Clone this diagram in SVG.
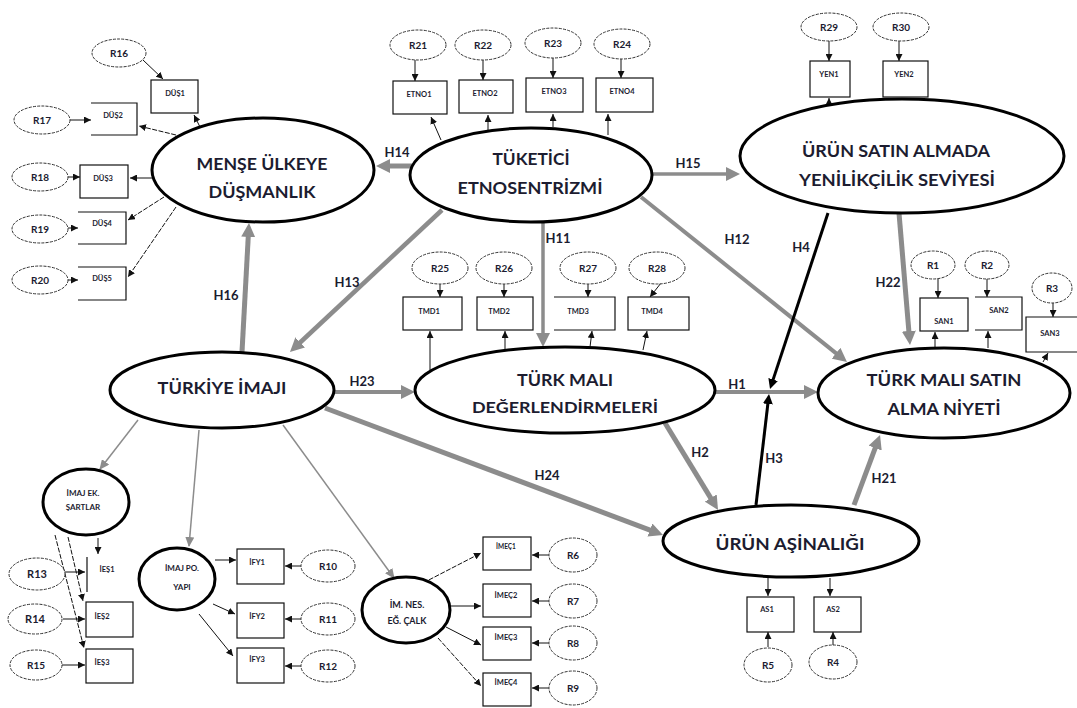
<svg xmlns="http://www.w3.org/2000/svg" width="1077" height="708" viewBox="0 0 1077 708">
<style>
text{font-family:Lato,"Open Sans","Liberation Sans",sans-serif;font-weight:bold;fill:#1c1c30;text-anchor:middle}
.big{font-size:17px}
.mid{font-size:9px}
.ind{font-size:7.5px}
.rl{font-size:10px}
.hl{font-size:13px}
.lat{fill:#fff;stroke:#000;stroke-width:3}
.err{fill:#fff;stroke:#333;stroke-width:1;stroke-dasharray:3 1.2}
.box{fill:#fff;stroke:#111;stroke-width:1.2}
.obox{fill:none;stroke:#111;stroke-width:1.2}
.thin{fill:none;stroke:#111;stroke-width:1;marker-end:url(#as)}
.dash{stroke-dasharray:5 1.5}
.gp{fill:none;stroke:#8c8c8c;marker-end:url(#ag)}
.gt{fill:none;stroke:#8c8c8c;stroke-width:1.5;marker-end:url(#agt)}
.bp{fill:none;stroke:#000;stroke-width:3;marker-end:url(#ab)}
</style>
<defs>
<marker id="ag" markerUnits="userSpaceOnUse" markerWidth="15" markerHeight="14" refX="3" refY="7" orient="auto"><path d="M0,0 L14,7 L0,14 z" fill="#8c8c8c"/></marker>
<marker id="agt" markerUnits="userSpaceOnUse" markerWidth="10" markerHeight="9" refX="9" refY="4.5" orient="auto"><path d="M0,0 L10,4.5 L0,9 z" fill="#8c8c8c"/></marker>
<marker id="ab" markerUnits="userSpaceOnUse" markerWidth="11" markerHeight="10" refX="3" refY="5" orient="auto"><path d="M0,0 L10,5 L0,10 z" fill="#000"/></marker>
<marker id="as" markerUnits="userSpaceOnUse" markerWidth="8" markerHeight="7" refX="7" refY="3.5" orient="auto"><path d="M0,0 L7,3.5 L0,7 z" fill="#111"/></marker>
</defs>
<rect width="1077" height="708" fill="#fff"/>

<g id="connectors">
<!-- structural paths -->
<line class="gp" x1="412" y1="166" x2="387" y2="166" stroke-width="5"/>
<line class="gp" x1="651" y1="174" x2="729" y2="174" stroke-width="3.5"/>
<line class="gp" x1="543" y1="222" x2="543" y2="336" stroke-width="3.5"/>
<line class="gp" x1="641" y1="197" x2="838.4" y2="355.1" stroke-width="4"/>
<line class="gp" x1="442" y1="210" x2="298" y2="344.5" stroke-width="4.5"/>
<line class="gp" x1="242" y1="352" x2="248.4" y2="234" stroke-width="5"/>
<line class="gp" x1="333" y1="392" x2="404" y2="392" stroke-width="4"/>
<line class="gp" x1="325" y1="408" x2="652.7" y2="531.1" stroke-width="5"/>
<line class="gp" x1="715" y1="392" x2="807" y2="392" stroke-width="4"/>
<line class="gp" x1="665" y1="423" x2="712.3" y2="500.6" stroke-width="5"/>
<line class="gp" x1="899" y1="213" x2="909.1" y2="334" stroke-width="5"/>
<line class="gp" x1="854" y1="505" x2="876.2" y2="445.3" stroke-width="5"/>
<line class="bp" x1="828" y1="213" x2="772.2" y2="382.4"/>
<line class="bp" x1="756" y1="505" x2="768.2" y2="401"/>
<line class="gt" x1="138" y1="420" x2="100" y2="469"/>
<line class="gt" x1="199" y1="430" x2="189" y2="546"/>
<line class="gt" x1="283" y1="425" x2="394" y2="578"/>
<!-- error to indicator -->
<line class="thin" x1="143" y1="60" x2="163" y2="79"/>
<line class="thin" x1="70" y1="120" x2="91" y2="120"/>
<line class="thin" x1="68" y1="177" x2="80" y2="177"/>
<line class="thin" x1="68" y1="228" x2="78" y2="228"/>
<line class="thin" x1="68" y1="280" x2="78" y2="280"/>
<line class="thin" x1="415" y1="60" x2="415" y2="81"/>
<line class="thin" x1="483" y1="60" x2="483" y2="80"/>
<line class="thin" x1="553" y1="58" x2="553" y2="78"/>
<line class="thin" x1="621" y1="59" x2="621" y2="78"/>
<line class="thin" x1="829" y1="41" x2="829" y2="61"/>
<line class="thin" x1="899" y1="41" x2="899" y2="61"/>
<line class="thin" x1="440" y1="284" x2="440" y2="297"/>
<line class="thin" x1="504" y1="284" x2="504" y2="297"/>
<line class="thin" x1="588" y1="284" x2="588" y2="297"/>
<line class="thin" x1="661" y1="283" x2="650" y2="297"/>
<line class="thin" x1="938" y1="278" x2="938" y2="298"/>
<line class="thin" x1="987" y1="279" x2="987" y2="297"/>
<line class="thin" x1="1053" y1="303" x2="1053" y2="317"/>
<line class="thin" x1="768" y1="647" x2="768" y2="632"/>
<line class="thin" x1="833" y1="645" x2="833" y2="632"/>
<line class="thin" x1="64" y1="572" x2="85" y2="572"/>
<line class="thin" x1="63" y1="619" x2="85" y2="619"/>
<line class="thin" x1="62" y1="665" x2="85" y2="665"/>
<line class="thin" x1="301" y1="566" x2="285" y2="566"/>
<line class="thin" x1="301" y1="619" x2="285" y2="619"/>
<line class="thin" x1="301" y1="666" x2="285" y2="666"/>
<line class="thin" x1="549" y1="555" x2="532" y2="555"/>
<line class="thin" x1="549" y1="601" x2="532" y2="601"/>
<line class="thin" x1="549" y1="643" x2="532" y2="643"/>
<line class="thin" x1="549" y1="688" x2="532" y2="688"/>
<!-- latent to indicator -->
<line class="thin" x1="200" y1="127" x2="194" y2="115"/>
<line class="thin dash" x1="176" y1="135" x2="139" y2="126"/>
<line class="thin" x1="153" y1="178" x2="130" y2="178" stroke-width="1.5"/>
<line class="thin dash" x1="164" y1="197" x2="128" y2="220"/>
<line class="thin dash" x1="176" y1="207" x2="128" y2="277"/>
<line class="thin" x1="441" y1="140" x2="431" y2="117"/>
<line class="thin" x1="488" y1="130" x2="488" y2="115"/>
<line class="thin" x1="553" y1="127" x2="553" y2="114"/>
<line class="thin" x1="608" y1="135" x2="608" y2="114"/>
<line class="thin" x1="829" y1="117" x2="829" y2="98"/>
<line class="thin" x1="900" y1="105" x2="900" y2="98"/>
<line class="thin" x1="430" y1="370" x2="430" y2="331"/>
<line class="thin" x1="505" y1="349" x2="505" y2="331"/>
<line class="thin" x1="590" y1="347" x2="592" y2="331"/>
<line class="thin" x1="643" y1="350" x2="647" y2="331"/>
<line class="thin" x1="935" y1="348" x2="935" y2="332"/>
<line class="thin" x1="988" y1="348" x2="988" y2="331"/>
<line class="thin dash" x1="1043" y1="362" x2="1048" y2="353"/>
<line class="thin" x1="768" y1="578" x2="768" y2="596"/>
<line class="thin" x1="830" y1="578" x2="830" y2="596"/>
<line class="thin" x1="98" y1="538" x2="98" y2="554"/>
<line class="thin dash" x1="68" y1="537" x2="83" y2="601"/>
<line class="thin dash" x1="55" y1="535" x2="84" y2="648"/>
<line class="thin" x1="215" y1="560" x2="236" y2="560" stroke-width="1.5"/>
<line class="thin" x1="213" y1="604" x2="235" y2="614"/>
<line class="thin" x1="199" y1="614" x2="233" y2="656"/>
<line class="thin dash" x1="423" y1="583" x2="481" y2="553"/>
<line class="thin" x1="450" y1="606" x2="481" y2="606" stroke-width="1.5"/>
<line class="thin" x1="446" y1="627" x2="481" y2="645"/>
<line class="thin dash" x1="438" y1="638" x2="481" y2="686"/>
<!-- path labels -->
<text class="hl" x="397" y="157">H14</text>
<text class="hl" x="688" y="168">H15</text>
<text class="hl" x="558" y="243">H11</text>
<text class="hl" x="737" y="244">H12</text>
<text class="hl" x="347" y="287">H13</text>
<text class="hl" x="226" y="300">H16</text>
<text class="hl" x="362" y="386">H23</text>
<text class="hl" x="547" y="480">H24</text>
<text class="hl" x="737" y="389">H1</text>
<text class="hl" x="700" y="457">H2</text>
<text class="hl" x="774" y="463">H3</text>
<text class="hl" x="801" y="252">H4</text>
<text class="hl" x="888" y="287">H22</text>
<text class="hl" x="884" y="483">H21</text>
</g>

<g id="n-dusmanlik">
<ellipse class="lat" cx="263" cy="170" rx="111" ry="52"/>
<text class="big" x="262" y="170" textLength="131" lengthAdjust="spacingAndGlyphs">MENŞE ÜLKEYE</text>
<text class="big" x="262" y="198" textLength="107" lengthAdjust="spacingAndGlyphs">DÜŞMANLIK</text>
</g>
<g id="n-etnosentrizm">
<ellipse class="lat" cx="531" cy="175" rx="121" ry="47"/>
<text class="big" x="531" y="165" textLength="77" lengthAdjust="spacingAndGlyphs">TÜKETİCİ</text>
<text class="big" x="530" y="194" textLength="145" lengthAdjust="spacingAndGlyphs">ETNOSENTRİZMİ</text>
</g>
<g id="n-yenilikcilik">
<ellipse class="lat" cx="902" cy="156" rx="162" ry="57"/>
<text class="big" x="896" y="157" textLength="188" lengthAdjust="spacingAndGlyphs">ÜRÜN SATIN ALMADA</text>
<text class="big" x="897" y="186" textLength="196" lengthAdjust="spacingAndGlyphs">YENİLİKÇİLİK SEVİYESİ</text>
</g>
<g id="n-turkiye-imaji">
<ellipse class="lat" cx="222" cy="390" rx="112" ry="38"/>
<text class="big" x="222" y="394" textLength="129" lengthAdjust="spacingAndGlyphs">TÜRKİYE İMAJI</text>
</g>
<g id="n-degerlendirme">
<ellipse class="lat" cx="565" cy="390" rx="150" ry="43"/>
<text class="big" x="565" y="386" textLength="96" lengthAdjust="spacingAndGlyphs">TÜRK MALI</text>
<text class="big" x="565" y="413" style="font-size:15px" textLength="186" lengthAdjust="spacingAndGlyphs">DEĞERLENDİRMELERİ</text>
</g>
<g id="n-satin-alma">
<ellipse class="lat" cx="944" cy="393" rx="126" ry="45"/>
<text class="big" x="944" y="386" textLength="155" lengthAdjust="spacingAndGlyphs">TÜRK MALI SATIN</text>
<text class="big" x="944" y="415" textLength="113" lengthAdjust="spacingAndGlyphs">ALMA NİYETİ</text>
</g>
<g id="n-asinalik">
<ellipse class="lat" cx="791" cy="541" rx="128" ry="36"/>
<text class="big" x="790" y="550" textLength="149" lengthAdjust="spacingAndGlyphs">ÜRÜN AŞİNALIĞI</text>
</g>
<g id="n-imaj-ek">
<ellipse class="lat" cx="86" cy="502" rx="43" ry="33"/>
<text class="mid" x="83" y="496" style="font-size:8px">İMAJ EK.</text>
<text class="mid" x="83" y="510" style="font-size:8px">ŞARTLAR</text>
</g>
<g id="n-imaj-po">
<ellipse class="lat" cx="177" cy="579" rx="38" ry="31"/>
<text class="mid" x="182" y="571" style="font-size:8px">İMAJ PO.</text>
<text class="mid" x="182" y="590" style="font-size:8px">YAPI</text>
</g>
<g id="n-im-nes">
<ellipse class="lat" cx="406" cy="610" rx="44" ry="33"/>
<text class="mid" x="407" y="608">İM. NES.</text>
<text class="mid" x="407" y="624">EĞ. ÇALK</text>
</g>

<g id="n-dus1"><rect class="box" x="151" y="80" width="47" height="33"/><text class="ind" x="175" y="96">DÜŞ1</text></g>
<g id="n-dus2"><path class="obox" d="M91,103 H137 V135 H91"/><text class="ind" x="113" y="118">DÜŞ2</text></g>
<g id="n-dus3"><rect class="box" x="80" y="165" width="48" height="33"/><text class="ind" x="103" y="181">DÜŞ3</text></g>
<g id="n-dus4"><path class="obox" d="M78,212 H126 V244 H78"/><text class="ind" x="102" y="226">DÜŞ4</text></g>
<g id="n-dus5"><path class="obox" d="M78,267 H126 V300 H78"/><text class="ind" x="102" y="281">DÜŞ5</text></g>
<g id="n-etno1"><rect class="box" x="393" y="81" width="54" height="33"/><text class="ind" x="419" y="97">ETNO1</text></g>
<g id="n-etno2"><rect class="box" x="459" y="80" width="54" height="33"/><text class="ind" x="485" y="96">ETNO2</text></g>
<g id="n-etno3"><rect class="box" x="526" y="78" width="57" height="34"/><text class="ind" x="554" y="94">ETNO3</text></g>
<g id="n-etno4"><rect class="box" x="596" y="78" width="57" height="34"/><text class="ind" x="622" y="94">ETNO4</text></g>
<g id="n-yen1"><rect class="box" x="810" y="61" width="40" height="36"/><text class="ind" x="829" y="77">YEN1</text></g>
<g id="n-yen2"><rect class="box" x="883" y="61" width="45" height="36"/><text class="ind" x="904" y="77">YEN2</text></g>
<g id="n-tmd1"><rect class="box" x="403" y="297" width="59" height="33"/><text class="ind" x="429" y="314">TMD1</text></g>
<g id="n-tmd2"><rect class="box" x="477" y="297" width="56" height="33"/><text class="ind" x="499" y="314">TMD2</text></g>
<g id="n-tmd3"><path class="obox" d="M554,297 H615 V330 H554"/><text class="ind" x="578" y="314">TMD3</text></g>
<g id="n-tmd4"><rect class="box" x="628" y="297" width="61" height="33"/><text class="ind" x="652" y="314">TMD4</text></g>
<g id="n-san1"><rect class="box" x="920" y="298" width="48" height="33"/><text class="ind" x="944" y="324">SAN1</text></g>
<g id="n-san2"><path class="obox" d="M975,297 H1022 V330 H975"/><text class="ind" x="999" y="313">SAN2</text></g>
<g id="n-san3"><path class="obox" d="M1077,317 H1026 V352 H1077"/><text class="ind" x="1050" y="336">SAN3</text></g>
<g id="n-as1"><rect class="box" x="747" y="597" width="47" height="35"/><text class="ind" x="767" y="612">AS1</text></g>
<g id="n-as2"><rect class="box" x="814" y="597" width="47" height="35"/><text class="ind" x="833" y="612">AS2</text></g>
<g id="n-ies1"><line x1="87" y1="557" x2="87" y2="592" stroke="#111" stroke-width="1.2"/><text class="ind" x="107" y="572">İEŞ1</text></g>
<g id="n-ies2"><rect class="box" x="86" y="602" width="47" height="35"/><text class="ind" x="102" y="619">İEŞ2</text></g>
<g id="n-ies3"><rect class="box" x="86" y="649" width="47" height="34"/><text class="ind" x="102" y="665">İEŞ3</text></g>
<g id="n-ify1"><rect class="box" x="237" y="549" width="47" height="35"/><text class="ind" x="257" y="565">İFY1</text></g>
<g id="n-ify2"><rect class="box" x="237" y="603" width="47" height="35"/><text class="ind" x="257" y="619">İFY2</text></g>
<g id="n-ify3"><rect class="box" x="237" y="648" width="47" height="35"/><text class="ind" x="257" y="662">İFY3</text></g>
<g id="n-imec1"><rect class="box" x="483" y="537" width="48" height="33"/><text class="ind" x="506" y="549" style="font-size:6.5px">İMEÇ1</text></g>
<g id="n-imec2"><rect class="box" x="483" y="584" width="48" height="33"/><text class="ind" x="506" y="598">İMEÇ2</text></g>
<g id="n-imec3"><rect class="box" x="483" y="627" width="48" height="33"/><text class="ind" x="506" y="640">İMEÇ3</text></g>
<g id="n-imec4"><rect class="box" x="483" y="673" width="48" height="33"/><text class="ind" x="506" y="685">İMEÇ4</text></g>

<g id="n-r16"><ellipse class="err" cx="119" cy="53" rx="27" ry="14"/><text class="rl" x="119" y="57">R16</text></g>
<g id="n-r17"><ellipse class="err" cx="42" cy="120" rx="28" ry="14"/><text class="rl" x="42" y="124">R17</text></g>
<g id="n-r18"><ellipse class="err" cx="40" cy="177" rx="28" ry="14"/><text class="rl" x="40" y="181">R18</text></g>
<g id="n-r19"><ellipse class="err" cx="40" cy="229" rx="28" ry="14"/><text class="rl" x="40" y="233">R19</text></g>
<g id="n-r20"><ellipse class="err" cx="40" cy="280" rx="28" ry="14"/><text class="rl" x="40" y="284">R20</text></g>
<g id="n-r21"><ellipse class="err" cx="418" cy="45" rx="28" ry="15"/><text class="rl" x="418" y="49">R21</text></g>
<g id="n-r22"><ellipse class="err" cx="483" cy="45" rx="28" ry="15"/><text class="rl" x="483" y="49">R22</text></g>
<g id="n-r23"><ellipse class="err" cx="553" cy="43" rx="28" ry="15"/><text class="rl" x="553" y="47">R23</text></g>
<g id="n-r24"><ellipse class="err" cx="622" cy="44" rx="28" ry="15"/><text class="rl" x="622" y="48">R24</text></g>
<g id="n-r29"><ellipse class="err" cx="829" cy="27" rx="28" ry="14"/><text class="rl" x="829" y="31">R29</text></g>
<g id="n-r30"><ellipse class="err" cx="901" cy="27" rx="28" ry="14"/><text class="rl" x="901" y="31">R30</text></g>
<g id="n-r25"><ellipse class="err" cx="440" cy="268" rx="28" ry="16"/><text class="rl" x="440" y="272">R25</text></g>
<g id="n-r26"><ellipse class="err" cx="504" cy="268" rx="28" ry="16"/><text class="rl" x="504" y="272">R26</text></g>
<g id="n-r27"><ellipse class="err" cx="588" cy="268" rx="28" ry="16"/><text class="rl" x="588" y="272">R27</text></g>
<g id="n-r28"><ellipse class="err" cx="657" cy="268" rx="28" ry="16"/><text class="rl" x="657" y="272">R28</text></g>
<g id="n-r1"><ellipse class="err" cx="933" cy="265" rx="22" ry="14"/><text class="rl" x="933" y="269">R1</text></g>
<g id="n-r2"><ellipse class="err" cx="987" cy="265" rx="22" ry="14"/><text class="rl" x="987" y="269">R2</text></g>
<g id="n-r3"><ellipse class="err" cx="1052" cy="288" rx="20" ry="15"/><text class="rl" x="1052" y="292">R3</text></g>
<g id="n-r5"><ellipse class="err" cx="768" cy="665" rx="24" ry="17"/><text class="rl" x="768" y="669">R5</text></g>
<g id="n-r4"><ellipse class="err" cx="833" cy="662" rx="24" ry="17"/><text class="rl" x="833" y="666">R4</text></g>
<g id="n-r13"><ellipse class="err" cx="37" cy="574" rx="28" ry="16"/><text class="rl" x="37" y="578" style="font-size:11px">R13</text></g>
<g id="n-r14"><ellipse class="err" cx="35" cy="619" rx="27" ry="15"/><text class="rl" x="35" y="623" style="font-size:11px">R14</text></g>
<g id="n-r15"><ellipse class="err" cx="36" cy="665" rx="26" ry="15"/><text class="rl" x="36" y="669">R15</text></g>
<g id="n-r10"><ellipse class="err" cx="328" cy="566" rx="27" ry="16"/><text class="rl" x="328" y="570">R10</text></g>
<g id="n-r11"><ellipse class="err" cx="328" cy="619" rx="27" ry="16"/><text class="rl" x="328" y="623">R11</text></g>
<g id="n-r12"><ellipse class="err" cx="328" cy="666" rx="27" ry="16"/><text class="rl" x="328" y="670">R12</text></g>
<g id="n-r6"><ellipse class="err" cx="573" cy="555" rx="24" ry="17"/><text class="rl" x="573" y="559">R6</text></g>
<g id="n-r7"><ellipse class="err" cx="573" cy="601" rx="24" ry="17"/><text class="rl" x="573" y="605">R7</text></g>
<g id="n-r8"><ellipse class="err" cx="573" cy="643" rx="24" ry="17"/><text class="rl" x="573" y="647">R8</text></g>
<g id="n-r9"><ellipse class="err" cx="573" cy="688" rx="24" ry="17"/><text class="rl" x="573" y="692">R9</text></g>
</svg>
